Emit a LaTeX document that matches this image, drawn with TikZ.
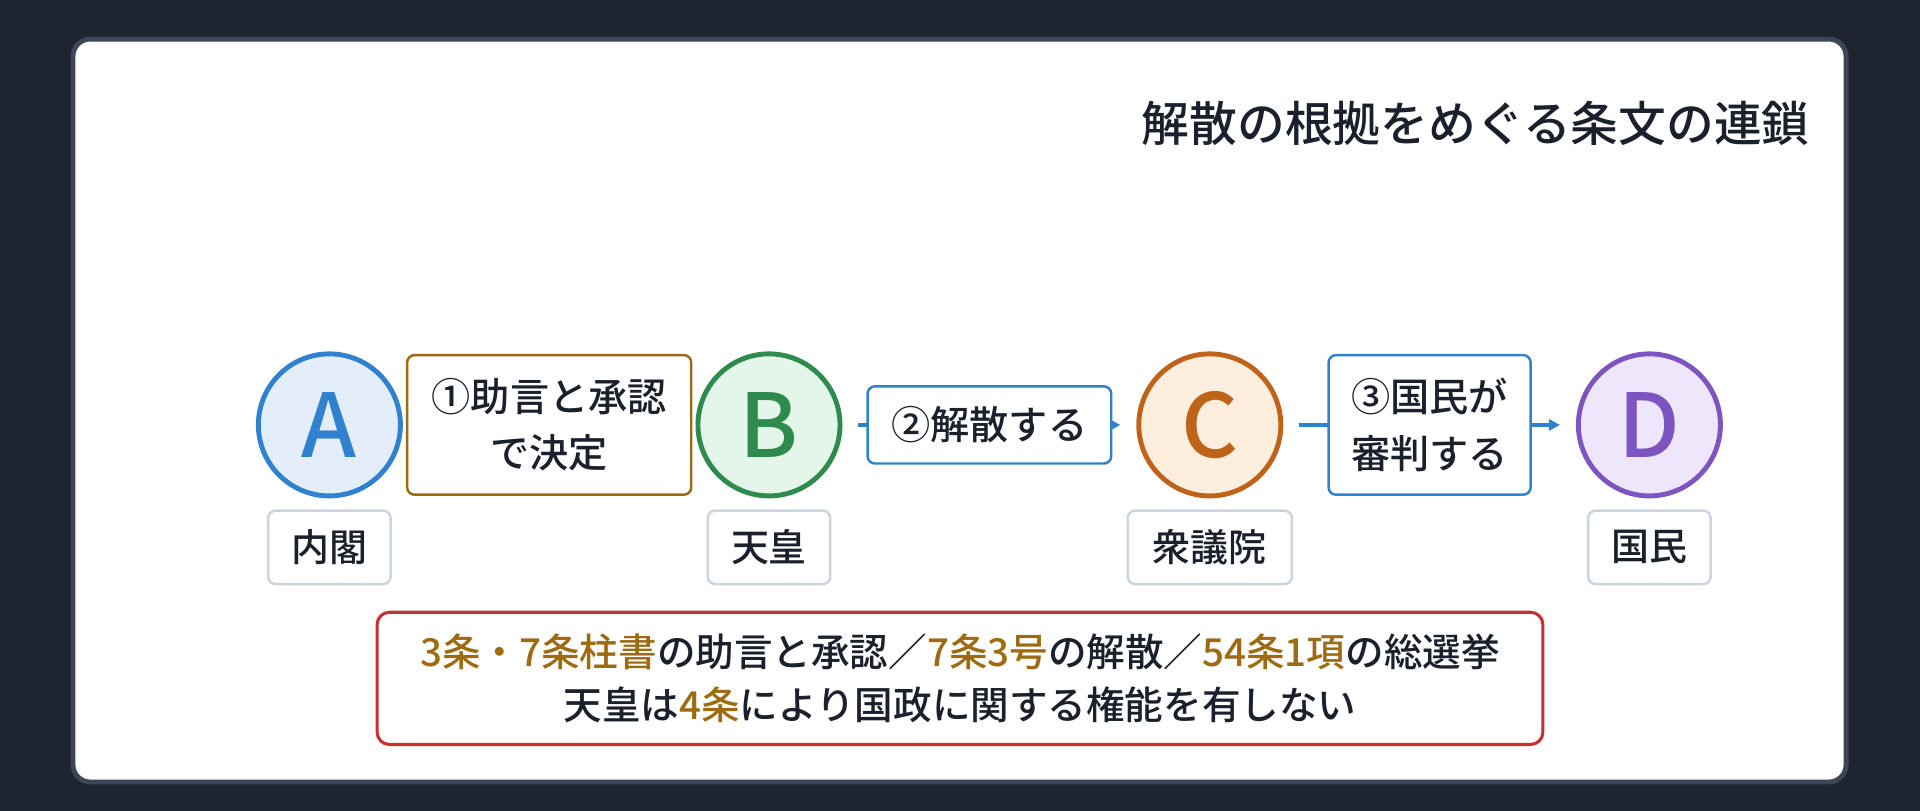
\documentclass[tikz,border=0pt]{standalone}
\usepackage{fontspec}
\setmainfont{Noto Sans CJK JP}[UprightFont={* Medium}, BoldFont={* Bold}]
\usetikzlibrary{arrows.meta, positioning}
\definecolor{pagebg}{HTML}{1E2530}
\definecolor{cardedge}{HTML}{3C4657}
\definecolor{ink}{HTML}{1A202C}
\definecolor{rolegray}{HTML}{CBD5E0}
\definecolor{gold}{HTML}{9C6B12}
\definecolor{flowblue}{HTML}{3182CE}
\definecolor{noteRed}{HTML}{C53030}
\definecolor{aLine}{HTML}{3182CE}
\definecolor{aFill}{HTML}{E3EEFA}
\definecolor{bLine}{HTML}{2F8A4E}
\definecolor{bFill}{HTML}{E4F5E9}
\definecolor{cLine}{HTML}{C0631A}
\definecolor{cFill}{HTML}{FDEEDD}
\definecolor{dLine}{HTML}{7E55C0}
\definecolor{dFill}{HTML}{EEE6FA}
\tikzset{
  agent/.style={circle, line width=4pt, minimum size=116pt, inner sep=0pt,
    font=\fontsize{72}{72}\selectfont},
  rolebox/.style={draw=rolegray, line width=2pt, rounded corners=6pt, fill=white,
    minimum height=60pt, inner sep=0pt, text=ink, font=\fontsize{31}{31}\selectfont},
  actbox/.style={line width=2pt, rounded corners=6pt, fill=white, inner sep=0pt,
    text=ink, align=center, font=\fontsize{32}{46}\selectfont},
  flow/.style={draw=flowblue, line width=3pt, -{Triangle[length=9pt,width=9pt]},
    shorten <=13pt, shorten >=13pt}
}
\begin{document}
\begin{tikzpicture}[x=1pt, y=-1pt]
  % background and card
  \fill[pagebg] (0,0) rectangle (1568,662);
  \useasboundingbox (0,0) rectangle (1568,662);
  \draw[cardedge, line width=4pt, fill=white, rounded corners=14pt] (59.6,31.9) rectangle (1507.6,638.6);

  \node[anchor=east, inner sep=0pt, text=ink, font=\fontsize{39}{39}\selectfont]
    (title) at (1478,101) {解散の根拠をめぐる条文の連鎖};

  % actors
  \node[agent, draw=aLine, fill=aFill, text=aLine] (A) at (269,347) {A};
  \node[agent, draw=bLine, fill=bFill, text=bLine] (B) at (628,347) {B};
  \node[agent, draw=cLine, fill=cFill, text=cLine] (C) at (988,347) {C};
  \node[agent, draw=dLine, fill=dFill, text=dLine] (D) at (1347,347) {D};

  \node[rolebox, minimum width=100pt, below=9pt of A] (cabinet) {内閣};
  \node[rolebox, minimum width=100pt, below=9pt of B] (emperor) {天皇};
  \node[rolebox, minimum width=134pt, below=9pt of C] (house) {衆議院};
  \node[rolebox, minimum width=100pt, below=9pt of D] (people) {国民};

  % chain
  \draw[flow] (A) -- node[actbox, draw=gold, minimum width=232pt, minimum height=114pt]
    (advice) {①助言と承認\\で決定} (B);
  \draw[flow] (B) -- node[actbox, draw=flowblue, minimum width=199pt, minimum height=63pt]
    (dissolve) {②解散する} (C);
  \draw[flow] (C) -- node[actbox, draw=flowblue, minimum width=165pt, minimum height=114pt]
    (judge) {③国民が\\審判する} (D);

  % articles
  \node[draw=noteRed, line width=2.5pt, rounded corners=10pt, fill=white, inner sep=0pt,
    minimum width=952pt, minimum height=108pt, align=center, text=ink,
    font=\fontsize{31.5}{43}\selectfont] (note) at (784,554)
    {\textcolor{gold}{3条・7条柱書}の助言と承認／\textcolor{gold}{7条3号}の解散／\textcolor{gold}{54条1項}の総選挙\\
     天皇は\textcolor{gold}{4条}により国政に関する権能を有しない};
\end{tikzpicture}
\end{document}
